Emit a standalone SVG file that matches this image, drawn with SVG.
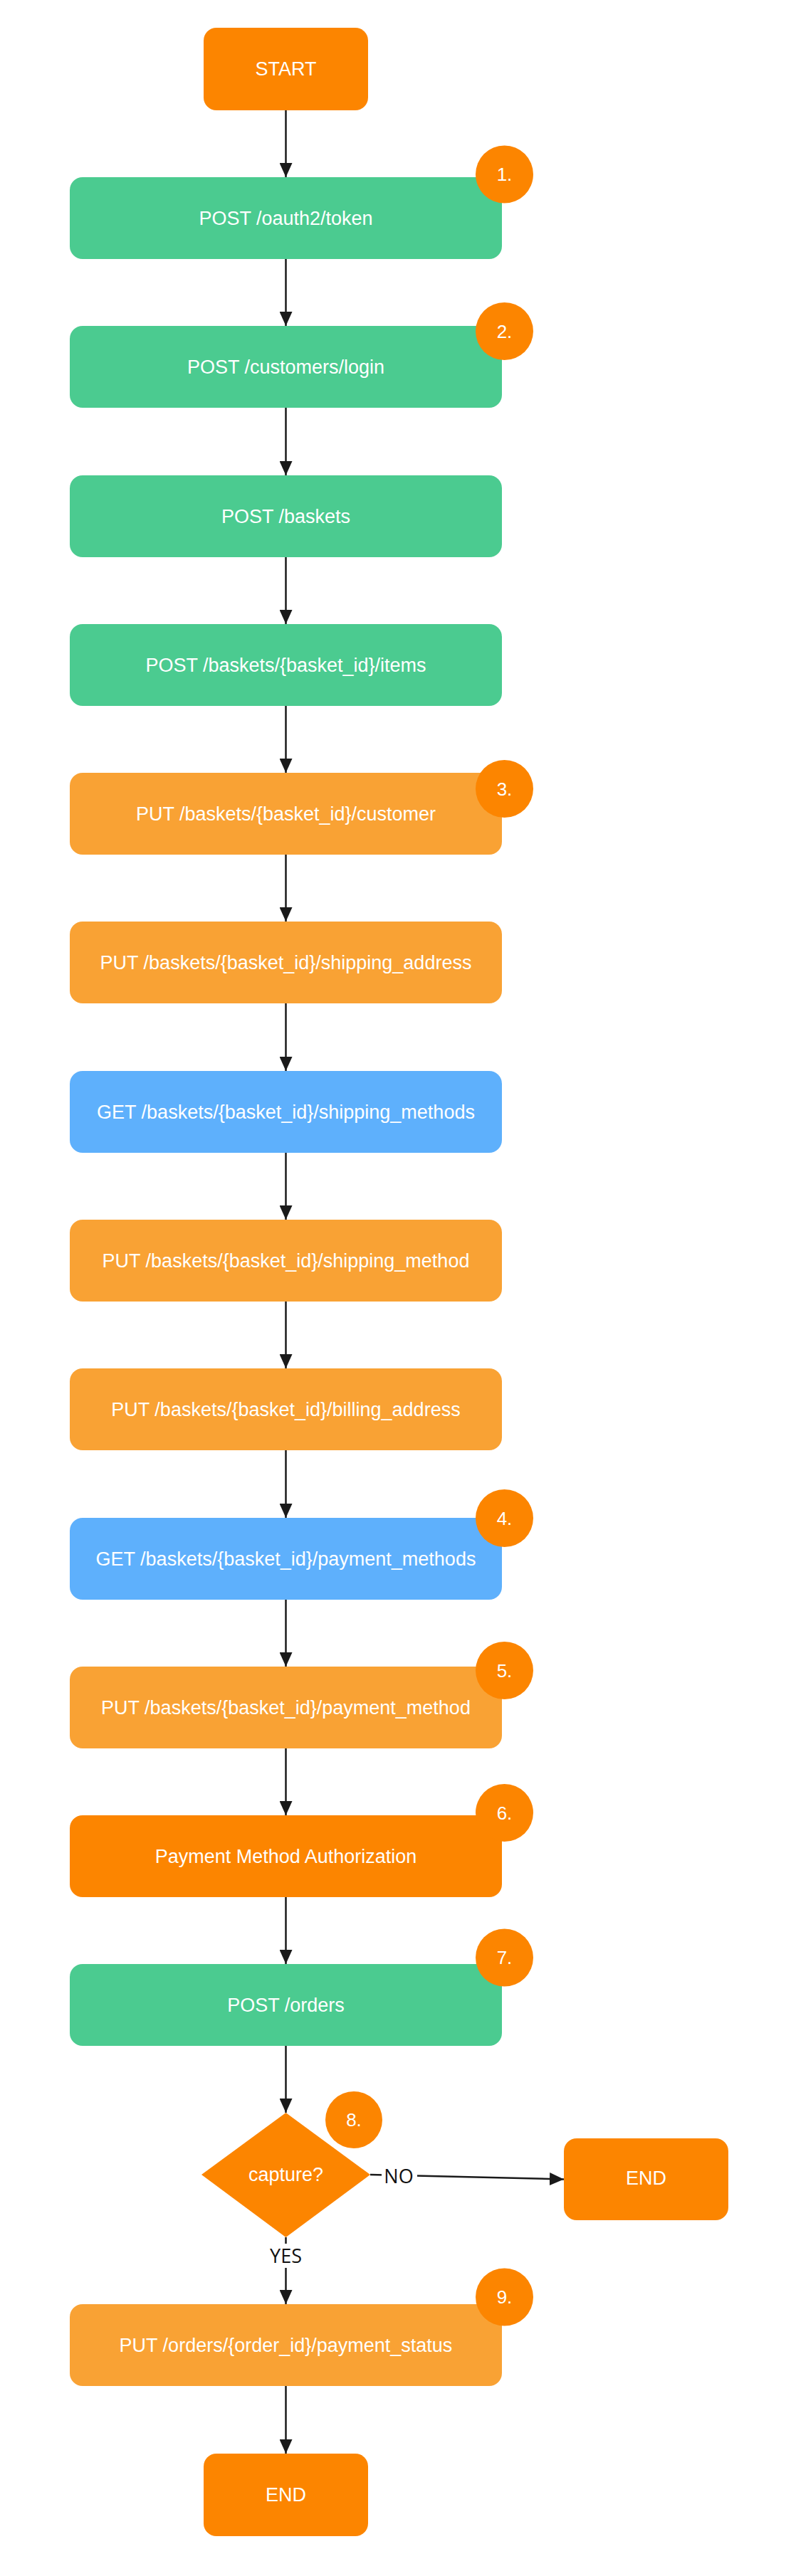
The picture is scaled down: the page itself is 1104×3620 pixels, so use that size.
<svg xmlns="http://www.w3.org/2000/svg" width="1104" height="3620" viewBox="0 0 1104 3620">
<defs>
<style>
.t{font-family:"Liberation Sans",Arial,sans-serif;font-size:27px;fill:#fff;text-anchor:middle;dominant-baseline:central}
.b{font-family:"Liberation Sans",Arial,sans-serif;font-size:26px;fill:#fff;text-anchor:middle;dominant-baseline:central}
.l{font-family:"Open Sans",sans-serif;font-size:27px;fill:#111;text-anchor:middle;dominant-baseline:central}
.green{fill:#4BCB90}
.lo{fill:#F9A234}
.do{fill:#FC8500}
.blue{fill:#5EB0FC}
.badge{fill:#FC8500}
.c{stroke:#1a1a1a;stroke-width:2.5;fill:none;marker-end:url(#arr)}
</style>
<marker id="arr" markerUnits="userSpaceOnUse" markerWidth="20" markerHeight="18" refX="20" refY="9" orient="auto">
<path d="M0,0 L20,9 L0,18 z" fill="#1a1a1a"/>
</marker>
</defs>
<rect width="1104" height="3620" fill="#fff"/>
<g id="connectors">
<path class="c" d="M401.5,155 V249"/>
<path class="c" d="M401.5,364 V458"/>
<path class="c" d="M401.5,573 V668"/>
<path class="c" d="M401.5,783 V877"/>
<path class="c" d="M401.5,992 V1086"/>
<path class="c" d="M401.5,1201 V1295"/>
<path class="c" d="M401.5,1410 V1505"/>
<path class="c" d="M401.5,1620 V1714"/>
<path class="c" d="M401.5,1829 V1923"/>
<path class="c" d="M401.5,2038 V2133"/>
<path class="c" d="M401.5,2248 V2342"/>
<path class="c" d="M401.5,2457 V2551"/>
<path class="c" d="M401.5,2666 V2760"/>
<path class="c" d="M401.5,2875 V2969"/>
<path class="c" d="M520,3056 L792,3062.5"/>
<path class="c" d="M401.5,3144 V3238"/>
<path class="c" d="M401.5,3353 V3448"/>
<rect x="536" y="3040" width="50" height="34" fill="#fff"/>
<text class="l" x="560" y="3057">NO</text>
<rect x="375" y="3153" width="53" height="34" fill="#fff"/>
<text class="l" x="401.5" y="3169">YES</text>
</g>
<g id="start"><rect class="do" x="286" y="39" width="231" height="116" rx="18"/><text class="t" x="401.5" y="97">START</text></g>
<g id="n1"><rect class="green" x="98" y="249" width="607" height="115" rx="18"/><text class="t" x="401.5" y="306.5">POST /oauth2/token</text></g>
<g id="n2"><rect class="green" x="98" y="458" width="607" height="115" rx="18"/><text class="t" x="401.5" y="515.5">POST /customers/login</text></g>
<g id="n3"><rect class="green" x="98" y="668" width="607" height="115" rx="18"/><text class="t" x="401.5" y="725.5">POST /baskets</text></g>
<g id="n4"><rect class="green" x="98" y="877" width="607" height="115" rx="18"/><text class="t" x="401.5" y="934.5">POST /baskets/{basket_id}/items</text></g>
<g id="n5"><rect class="lo" x="98" y="1086" width="607" height="115" rx="18"/><text class="t" x="401.5" y="1143.5">PUT /baskets/{basket_id}/customer</text></g>
<g id="n6"><rect class="lo" x="98" y="1295" width="607" height="115" rx="18"/><text class="t" x="401.5" y="1352.5">PUT /baskets/{basket_id}/shipping_address</text></g>
<g id="n7"><rect class="blue" x="98" y="1505" width="607" height="115" rx="18"/><text class="t" x="401.5" y="1562.5">GET /baskets/{basket_id}/shipping_methods</text></g>
<g id="n8"><rect class="lo" x="98" y="1714" width="607" height="115" rx="18"/><text class="t" x="401.5" y="1771.5">PUT /baskets/{basket_id}/shipping_method</text></g>
<g id="n9"><rect class="lo" x="98" y="1923" width="607" height="115" rx="18"/><text class="t" x="401.5" y="1980.5">PUT /baskets/{basket_id}/billing_address</text></g>
<g id="n10"><rect class="blue" x="98" y="2133" width="607" height="115" rx="18"/><text class="t" x="401.5" y="2190.5">GET /baskets/{basket_id}/payment_methods</text></g>
<g id="n11"><rect class="lo" x="98" y="2342" width="607" height="115" rx="18"/><text class="t" x="401.5" y="2399.5">PUT /baskets/{basket_id}/payment_method</text></g>
<g id="n12"><rect class="do" x="98" y="2551" width="607" height="115" rx="18"/><text class="t" x="401.5" y="2608.5">Payment Method Authorization</text></g>
<g id="n13"><rect class="green" x="98" y="2760" width="607" height="115" rx="18"/><text class="t" x="401.5" y="2817.5">POST /orders</text></g>
<g id="decision"><path class="do" d="M401.5,2969 L520,3056 L401.5,3144 L283,3056 z"/><text class="t" x="401.5" y="3056">capture?</text></g>
<g id="end-no"><rect class="do" x="792" y="3005" width="231" height="115" rx="18"/><text class="t" x="907.5" y="3061">END</text></g>
<g id="n14"><rect class="lo" x="98" y="3238" width="607" height="115" rx="18"/><text class="t" x="401.5" y="3295.5">PUT /orders/{order_id}/payment_status</text></g>
<g id="end"><rect class="do" x="286" y="3448" width="231" height="116" rx="18"/><text class="t" x="401.5" y="3506">END</text></g>
<g id="badge1"><circle class="badge" cx="708.5" cy="245" r="40.5"/><text class="b" x="708.5" y="245">1.</text></g>
<g id="badge2"><circle class="badge" cx="708.5" cy="465.5" r="40.5"/><text class="b" x="708.5" y="465.5">2.</text></g>
<g id="badge3"><circle class="badge" cx="708.5" cy="1108.5" r="40.5"/><text class="b" x="708.5" y="1108.5">3.</text></g>
<g id="badge4"><circle class="badge" cx="708.5" cy="2133.5" r="40.5"/><text class="b" x="708.5" y="2133.5">4.</text></g>
<g id="badge5"><circle class="badge" cx="708.5" cy="2347.5" r="40.5"/><text class="b" x="708.5" y="2347.5">5.</text></g>
<g id="badge6"><circle class="badge" cx="708.5" cy="2547.5" r="40.5"/><text class="b" x="708.5" y="2547.5">6.</text></g>
<g id="badge7"><circle class="badge" cx="708.5" cy="2751" r="40.5"/><text class="b" x="708.5" y="2751">7.</text></g>
<g id="badge8"><circle class="badge" cx="497" cy="2979" r="40"/><text class="b" x="497" y="2979">8.</text></g>
<g id="badge9"><circle class="badge" cx="708.5" cy="3228" r="40.5"/><text class="b" x="708.5" y="3228">9.</text></g>
</svg>
